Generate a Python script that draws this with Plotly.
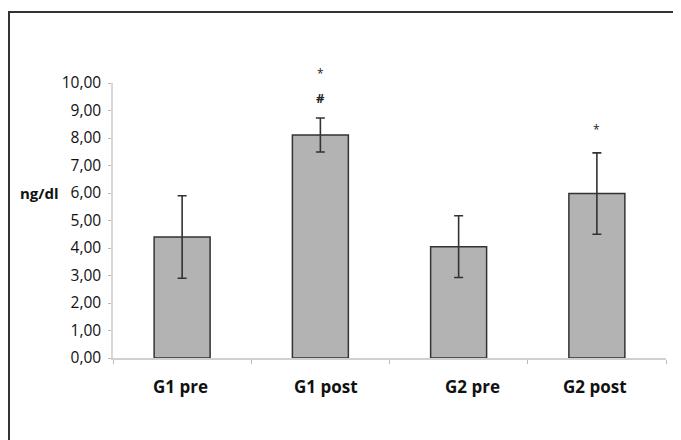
import plotly.graph_objects as go

categories = ["G1 pre", "G1 post", "G2 pre", "G2 post"]
means = [4.40, 8.11, 4.05, 5.98]
errors = [1.50, 0.62, 1.12, 1.48]
y_ticks = [0, 1, 2, 3, 4, 5, 6, 7, 8, 9, 10]

OFF = 8  # page body margin
W, H = 681 - OFF, 440 - OFF
L, R, T, B = 113 - OFF, 15, 83 - OFF, 82
pw, ph = W - L - R, H - T - B

def px_x(p):
    return (p - OFF - L) / pw

def px_y(p):
    return (H - B - (p - OFF)) / ph

xs = list(range(len(categories)))

fig = go.Figure()
fig.add_trace(go.Bar(
    x=xs, y=means, width=0.405,
    marker=dict(color="#b3b3b3", line=dict(color="#333333", width=1.5)),
    error_y=dict(type="data", array=errors, visible=True, color="#333333",
                 thickness=1.6, width=4.5),
    hoverinfo="skip",
))

font = "Open Sans, Noto Sans, sans-serif"
label_shift = [-2, 6, 14, -2]
for i, c in enumerate(categories):
    fig.add_annotation(x=xs[i], y=px_y(386), yref="paper", yanchor="middle",
                       text=f"<b>{c}</b>", showarrow=False, xshift=label_shift[i],
                       font=dict(family=font, size=17, color="#111111"))

# significance marks
fig.add_annotation(x=1, y=px_y(73), yref="paper", yanchor="middle", text="*",
                   showarrow=False, font=dict(family=font, size=12, color="#222"))
fig.add_annotation(x=1, y=px_y(98), yref="paper", yanchor="middle", text="<b>#</b>",
                   showarrow=False, font=dict(family=font, size=13, color="#222"))
fig.add_annotation(x=3, y=px_y(129), yref="paper", yanchor="middle", text="*",
                   showarrow=False, font=dict(family=font, size=12, color="#222"))

fig.add_annotation(x=px_x(61), xref="paper", xanchor="right", y=px_y(193), yref="paper",
                   yanchor="middle", text="<b>ng/dl</b>", showarrow=False,
                   font=dict(family=font, size=15, color="#111111"))

# outer frame
fig.add_shape(type="line", xref="paper", yref="paper", x0=px_x(8), x1=px_x(700),
              y0=px_y(12), y1=px_y(12), line=dict(color="#333333", width=2))
fig.add_shape(type="line", xref="paper", yref="paper", x0=px_x(9), x1=px_x(9),
              y0=px_y(12), y1=px_y(460), line=dict(color="#333333", width=2))

fig.update_layout(
    width=W, height=H,
    margin=dict(l=L, r=R, t=T, b=B),
    paper_bgcolor="white", plot_bgcolor="white",
    separators=",.",
    showlegend=False,
    font=dict(family=font, color="#111111"),
    xaxis=dict(range=[-0.5, 3.5], tickvals=[-0.5, 0.5, 1.5, 2.5, 3.5],
               ticktext=["", "", "", "", ""], ticks="outside", ticklen=4,
               tickcolor="#bbbbbb", showline=True, linecolor="#d0d0d0",
               linewidth=1.5, showgrid=False, zeroline=False, fixedrange=True),
    yaxis=dict(range=[0, 10], tickvals=y_ticks, tickformat=".2f",
               ticks="outside", ticklen=3, tickcolor="#bbbbbb",
               showline=True, linecolor="#d8d8d8", linewidth=1.5,
               showgrid=False, zeroline=False,
               tickfont=dict(family=font, size=15.5, color="#111111"),
               ticklabelstandoff=4),
)

fig.write_html("out.html")
